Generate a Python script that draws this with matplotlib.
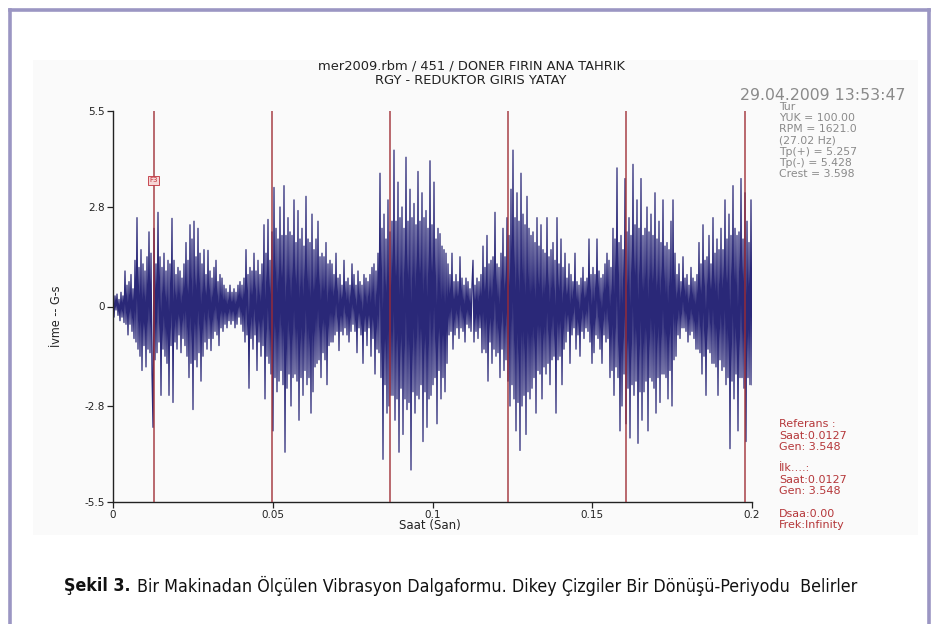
import matplotlib
matplotlib.use("Agg")
import matplotlib.pyplot as plt
from matplotlib.patches import Rectangle
from matplotlib.lines import Line2D
import numpy as np

# ivme sinyali (G-s), 0 - 0.2 s arasi esit aralikli ornekler
ivme = [
    0.2, -0.3, 0.3, -0.1, 0.35, -0.25, 0.2, -0.4, 0.4, -0.3, 0.3, -0.45, 1.0, -0.5, 0.6, -0.8, 0.7, -0.5, 0.9, -0.7,
    0.5, -0.9, 1.3, -1.0, 2.5, -1.2, 1.1, -1.4, 1.6, -1.8, 1.2, -1.1, 1.0, -1.7, 1.4, -1.2, 2.1, -1.3, 1.5, -1.9,
    -3.4, 2.2, -1.5, 1.2, -1.3, 2.65, -1.0, 1.4, -2.5, 1.1, -1.2, 1.5, -1.4, 1.0, -1.6, 1.3, -2.5, 1.2, -1.1, 2.48,
    -2.7, 1.3, -1.0, 0.9, -1.2, 1.1, -0.8, 1.0, -1.3, 0.8, -0.9, 1.2, -1.1, 1.8, -1.4, 1.3, -2.0, 2.3, -1.6, 1.9,
    -2.9, 2.4, -1.5, 1.4, -1.7, 2.2, -1.3, 1.5, -2.1, 1.2, -1.4, 1.6, -1.0, 0.9, -1.2, 1.58, -0.9, 1.0, -1.24, 0.8,
    -0.9, 1.1, -0.7, 1.3, -0.8, 0.7, -1.1, 0.9, -0.6, 0.8, -0.7, 0.6, -0.5, 0.5, -0.6, 0.4, -0.4, 0.6, -0.5, 0.4,
    -0.4, 0.5, -0.6, 0.4, -0.5, 0.6, -0.3, 0.7, -0.5, 0.6, -0.7, 0.8, -1.0, 1.6, -0.8, 0.9, -2.3, 1.1, -0.9, 1.0,
    -1.2, 1.5, -0.8, 1.0, -1.8, 1.3, -1.0, 0.9, -1.4, 1.2, -1.1, 2.3, -2.6, 1.5, -1.4, 2.45, -1.6, 1.3, -1.9, 2.1,
    -3.5, 3.35, -2.0, 2.2, -2.4, 1.9, -2.1, 2.8, -1.8, 2.0, -2.2, 3.4, -4.1, 2.0, -2.3, 2.5, -1.9, 2.1, -2.8, 2.0,
    -2.0, 3.0, -1.9, 1.8, -2.1, 2.7, -3.2, 1.9, -2.0, 2.2, -2.5, 1.7, -1.8, 3.1, -2.2, 1.9, -2.0, 1.8, -3.0, 2.6,
    -2.4, 1.6, -1.7, 1.9, -1.6, 2.4, -1.5, 1.4, -2.0, 1.5, -1.3, 1.4, -1.5, 1.8, -2.2, 1.2, -1.1, 1.3, -1.0, 1.2,
    -1.0, 0.9, -0.8, 1.5, -0.7, 0.8, -1.24, 0.9, -0.7, 0.6, -0.8, 1.3, -0.6, 0.7, -0.8, 0.8, -1.0, 0.6, -0.7, 1.2,
    -0.5, 0.9, -0.7, 0.6, -1.3, 1.0, -0.6, 0.7, -0.8, 0.6, -1.6, 0.9, -0.7, 0.8, -1.1, 0.7, -0.6, 0.9, -1.4, 1.1,
    -0.9, 1.2, -1.9, 1.0, -1.2, 1.5, -1.3, 3.75, -2.0, 2.2, -4.3, 2.6, -2.2, 1.9, -3.0, 3.0, -2.8, 2.1, -2.5, 2.4,
    -2.5, 4.4, -3.2, 2.4, -2.6, 3.5, -4.1, 2.5, -2.3, 2.8, -3.6, 2.2, -2.6, 4.2, -2.9, 2.4, -2.7, 3.3, -4.6, 2.5,
    -2.4, 2.9, -3.0, 2.3, -2.5, 3.8, -2.6, 2.4, -2.2, 3.2, -3.8, 2.5, -2.4, 2.7, -3.4, 2.2, -2.6, 4.1, -2.5, 2.3,
    -2.2, 3.5, -2.0, 1.9, -3.3, 2.2, -1.8, 2.05, -2.6, 1.7, -2.0, 1.6, -2.4, 1.5, -1.6, 1.2, -0.8, 0.9, -0.7, 1.5,
    -1.2, 0.7, -0.8, 0.9, -0.6, 0.7, -0.9, 1.4, -0.6, 0.8, -0.7, 0.6, -1.0, 0.8, -0.5, 0.7, -0.6, 0.5, -0.7, 0.6,
    1.3, -1.0, 0.6, -0.7, 0.8, -0.9, 0.7, -0.6, 0.9, -1.3, 1.7, -1.2, 1.1, -1.3, 2.0, -2.1, 1.2, -1.0, 1.3, -1.6,
    1.4, -1.2, 2.65, -1.4, 1.2, -1.3, 1.1, -2.0, 1.5, -1.2, 2.2, -1.8, 1.4, -1.5, 2.5, -2.1, 2.0, -2.8, 3.3, -2.2,
    4.4, -2.6, 2.5, -3.5, 3.2, -2.7, 2.4, -4.05, 3.75, -2.8, 2.6, -2.5, 2.3, -3.6, 3.1, -2.4, 2.2, -2.6, 2.0, -2.3,
    2.1, -2.0, 1.8, -3.0, 2.5, -1.8, 1.7, -1.9, 2.3, -2.6, 1.6, -1.7, 1.5, -1.9, 2.5, -1.6, 1.4, -2.2, 1.6, -1.5,
    1.8, -1.4, 1.3, -3.0, 2.5, -1.5, 1.2, -1.4, 1.9, -2.2, 1.1, -1.2, 1.5, -1.0, 0.8, -0.7, 1.2, -1.6, 0.9, -0.8,
    0.7, -0.6, 1.5, -1.2, 0.7, -0.8, 0.6, -1.4, 0.8, -0.7, 1.1, -0.9, 0.7, -0.6, 0.8, -0.7, 1.9, -1.0, 0.9, -1.6,
    1.1, -1.3, 0.9, -0.8, 1.9, -0.9, 1.0, -1.2, 0.8, -1.6, 0.9, -0.8, 1.2, -1.0, 1.5, -0.9, 1.3, -2.0, 1.1, -1.8,
    2.2, -2.5, 1.9, -1.7, 3.9, -2.0, 1.8, -3.5, 2.0, -2.8, 1.6, -1.9, 3.6, -3.3, 2.1, -2.3, 2.5, -3.7, 2.0, -2.2,
    4.0, -2.5, 2.3, -2.1, 3.0, -3.85, 2.2, -2.4, 3.6, -3.2, 2.0, -2.4, 2.2, -2.1, 2.8, -3.5, 2.1, -2.0, 2.6, -2.1,
    2.0, -2.3, 3.2, -3.0, 1.9, -2.0, 2.4, -2.7, 1.8, -1.9, 3.0, -1.9, 1.7, -2.0, 1.8, -2.6, 1.6, -1.8, 2.4, -2.8,
    3.0, -1.5, 1.5, -1.4, 0.9, -0.8, 1.2, -0.9, 0.7, -0.6, 1.4, -0.6, 0.8, -0.7, 0.9, -1.0, 0.6, -0.8, 1.1, -0.7,
    0.8, -0.9, 0.7, -1.2, 0.9, -1.2, 1.8, -1.3, 1.2, -1.9, 2.3, -1.4, 1.3, -2.5, 1.4, -1.2, 2.0, -1.3, 1.2, -1.6,
    2.5, -1.6, 1.5, -1.7, 1.9, -2.5, 1.6, -1.5, 2.2, -1.8, 1.6, -1.7, 3.0, -2.2, 1.9, -2.0, 2.6, -4.0, 2.0, -2.1,
    3.4, -2.6, 2.2, -1.9, 2.0, -3.5, 2.1, -2.0, 3.6, -2.0, 1.9, -2.3, 3.2, -3.8, 2.4, -2.0, 1.8, -2.2, 3.0, -2.2,
]
t_bas, t_son = 0.0, 0.2

# devir isaretleri (s)
devir_cizgileri = [0.0127, 0.0497, 0.0867, 0.1237, 0.1607, 0.1977]
referans = (0.0127, 3.548)

x_ticks = [0, 0.05, 0.1, 0.15, 0.2]
x_tick_labels = ['0', '0.05', '0.1', '0.15', '0.2']
y_ticks = [-5.5, -2.8, 0, 2.8, 5.5]
y_tick_labels = ['-5.5', '-2.8', '0', '2.8', '5.5']

baslik = ['mer2009.rbm / 451 / DONER FIRIN ANA TAHRIK', 'RGY - REDUKTOR GIRIS YATAY']
tarih = '29.04.2009 13:53:47'
bilgi = ['Tur', 'YUK = 100.00', 'RPM = 1621.0', '(27.02 Hz)', 'Tp(+) = 5.257', 'Tp(-) = 5.428', 'Crest = 3.598']
imlec = [('Referans :', 424), ('Saat:0.0127', 436), ('Gen: 3.548', 447),
         ('İlk….:', 468), ('Saat:0.0127', 480), ('Gen: 3.548', 491),
         ('Dsaa:0.00', 514), ('Frek:Infinity', 525)]

W, H = 936, 624
fig = plt.figure(figsize=(W / 100, H / 100), dpi=100)
fig.patch.set_facecolor('white')


def px(x, y):
    return x / W, 1 - y / H


# acik gri grafik zemini ve mor cerceve
fig.patches.append(Rectangle(px(33, 535), (918 - 33) / W, (535 - 60) / H, transform=fig.transFigure,
                             facecolor='#fafafa', edgecolor='none', zorder=-10))
cerceve = '#9b96c3'
for xs, ys in [((9.5, 9.5), (9.5, 624)), ((9.5, 928.5), (9.5, 9.5)), ((928.5, 928.5), (9.5, 624))]:
    fig.lines.append(Line2D([x / W for x in xs], [1 - y / H for y in ys], transform=fig.transFigure,
                            color=cerceve, linewidth=2.6, zorder=-5))

ax = fig.add_axes([113 / W, 1 - 502 / H, (752 - 113) / W, (502 - 111) / H])
ax.set_facecolor('none')

t = np.linspace(t_bas, t_son, len(ivme))
ax.plot(t, ivme, color='#2a2878', linewidth=0.9, zorder=2)

for xc in devir_cizgileri:
    ax.axvline(xc, color='#9e2c34', linewidth=1.1, alpha=0.9, zorder=3)

ax.text(referans[0], referans[1], 'F3', color='#c0303a', fontsize=5, ha='center', va='center', zorder=4,
        bbox=dict(boxstyle='square,pad=0.2', facecolor='#f6d6d6', edgecolor='#c0303a', linewidth=0.6))

ax.set_xlim(t_bas, t_son)
ax.set_ylim(-5.5, 5.5)
ax.set_xticks(x_ticks)
ax.set_xticklabels(x_tick_labels)
ax.set_yticks(y_ticks)
ax.set_yticklabels(y_tick_labels)
ax.tick_params(direction='out', length=4, width=0.9, labelsize=7.5, colors='#222222', pad=2)
for s in ['top', 'right']:
    ax.spines[s].set_visible(False)
for s in ['left', 'bottom']:
    ax.spines[s].set_color('#222222')
    ax.spines[s].set_linewidth(1.0)

fig.text(*px(430, 526), 'Saat (San)', fontsize=8.5, ha='center', va='center', color='#222222')
fig.text(*px(57, 316), 'İvme -- G-s', fontsize=9, rotation=90, ha='center', va='center', color='#222222',
         family='DejaVu Sans', stretch='condensed')

fig.text(*px(471, 66), baslik[0], fontsize=9.4, ha='center', va='center', color='#222222')
fig.text(*px(471, 80), baslik[1], fontsize=9.4, ha='center', va='center', color='#222222')

fig.text(*px(740, 96), tarih, fontsize=11.3, ha='left', va='center', color='#8a8a8a')
for i, satir in enumerate(bilgi):
    fig.text(*px(779, 107 + i * 11.2), satir, fontsize=7.8, ha='left', va='center', color='#8a8a8a')

for satir, yy in imlec:
    fig.text(*px(779, yy), satir, fontsize=8, ha='left', va='center', color='#b5373a')

fig.text(*px(64, 586), 'Şekil 3.', fontsize=12.8, fontweight='bold', ha='left', va='center', color='#111111',
         family='DejaVu Sans', stretch='condensed')
fig.text(*px(137, 586), 'Bir Makinadan Ölçülen Vibrasyon Dalgaformu. Dikey Çizgiler Bir Dönüşü-Periyodu  Belirler',
         fontsize=12.8, ha='left', va='center', color='#111111',
         family='DejaVu Sans', stretch='condensed')

fig.savefig('out.png', dpi=100, facecolor='white')
